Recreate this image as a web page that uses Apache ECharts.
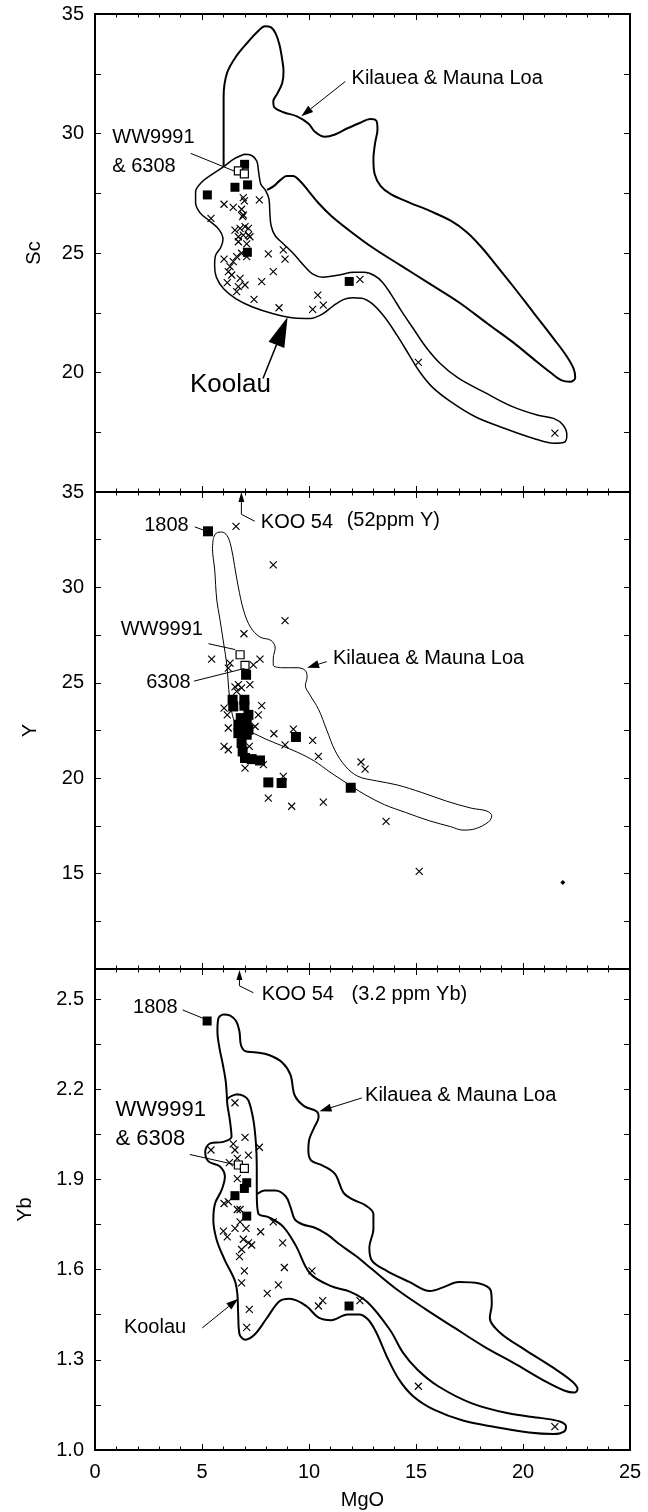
<!DOCTYPE html>
<html><head><meta charset="utf-8">
<script src="https://cdn.jsdelivr.net/npm/echarts@6/dist/echarts.min.js"></script>
<style>html,body{margin:0;padding:0;background:#fff}#c{width:648px;height:1512px}</style>
</head><body><div id="c"></div>
<script>
// ---------------- DATA ----------------
const mgoRange = [0, 25];
const scRange = [15, 35];
const yRange = [10, 35];
const ybRange = [1.0, 2.6];

// Sc panel
const scKilaueaOutline = [[6.01,28.64],[6.01,30.03],[6.01,31.56],[6.17,32.53],[6.59,33.22],[7.17,33.85],[7.65,34.31],[7.94,34.49],[8.23,34.44],[8.44,34.19],[8.62,33.71],[8.75,33.08],[8.81,32.60],[8.75,32.11],[8.52,31.67],[8.33,31.35],[8.37,31.11],[8.81,30.89],[9.44,30.72],[9.97,30.42],[10.29,30.06],[10.74,29.86],[11.22,29.96],[11.80,30.22],[12.37,30.44],[12.86,30.61],[13.15,30.53],[13.20,30.17],[13.09,29.61],[13.01,28.92],[13.07,28.29],[13.34,27.81],[13.82,27.46],[14.69,27.11],[15.65,26.76],[16.62,26.35],[17.39,25.86],[18.06,25.24],[18.64,24.61],[19.51,23.64],[20.47,22.53],[21.43,21.42],[22.01,20.72],[22.36,20.17],[22.44,19.78],[22.21,19.61],[21.78,19.68],[21.24,20.03],[20.47,20.58],[19.51,21.28],[18.35,22.04],[17.00,22.94],[15.65,23.71],[14.30,24.47],[12.95,25.24],[11.80,26.00],[11.03,26.56],[10.45,27.08],[9.97,27.60],[9.58,28.01],[9.25,28.22],[8.96,28.22],[8.67,28.06],[8.37,27.81],[8.04,27.64]];
const scKoolauOutline = [[6.98,29.13],[7.32,29.08],[7.56,28.85],[7.65,28.36],[7.75,27.88],[7.98,27.60],[8.13,27.25],[8.17,26.69],[8.23,26.14],[8.42,25.72],[8.81,25.38],[9.29,24.96],[9.77,24.47],[10.16,24.13],[10.64,23.99],[11.41,24.08],[12.09,24.19],[12.57,24.19],[13.05,24.06],[13.43,23.78],[13.82,23.29],[14.30,22.60],[14.88,21.83],[15.46,21.07],[16.13,20.38],[17.00,19.75],[18.16,19.19],[19.51,18.57],[20.66,18.22],[21.43,18.08],[21.86,17.81],[22.05,17.39],[21.92,17.08],[21.43,17.04],[20.47,17.25],[19.12,17.67],[17.77,18.15],[16.62,18.78],[15.75,19.40],[15.17,20.03],[14.69,20.72],[14.11,21.56],[13.53,22.32],[12.95,22.88],[12.47,23.11],[12.03,23.13],[11.60,23.05],[11.12,22.78],[10.64,22.45],[10.06,22.26],[9.29,22.28],[8.33,22.46],[7.36,22.74],[6.59,23.08],[6.01,23.50],[5.67,23.99],[5.59,24.47],[5.63,24.89],[5.88,25.24],[5.98,25.58],[5.78,26.00],[5.34,26.35],[4.90,26.69],[4.70,27.11],[4.70,27.56],[4.99,27.97],[5.47,28.29],[6.01,28.61],[6.50,28.94],[6.98,29.13]];
const scCross = [[6.03,27.04],[6.46,26.91],[6.93,27.32],[6.98,27.18],[7.68,27.22],[6.85,26.83],[6.93,26.59],[6.90,26.52],[5.42,26.45],[6.54,25.96],[6.78,26.03],[7.01,26.10],[7.17,26.03],[6.70,25.68],[6.93,25.75],[7.17,25.75],[7.24,25.68],[6.70,25.47],[7.09,25.38],[6.85,24.99],[6.62,24.85],[6.03,24.74],[6.46,24.64],[6.31,24.43],[6.23,24.22],[6.39,24.08],[6.18,23.76],[6.78,23.94],[7.01,23.66],[6.70,23.59],[6.62,23.38],[7.79,23.80],[8.33,24.22],[8.10,24.96],[8.80,25.13],[8.88,24.74],[7.43,23.06],[8.60,22.71],[10.41,23.24],[10.17,22.64],[10.67,22.82],[12.38,23.90],[7.09,24.85],[15.11,20.42],[21.49,17.46]];
const scFilled = [[6.99,28.71],[6.54,27.75],[7.13,27.85],[5.25,27.43],[7.12,25.03],[11.88,23.81]];
const scOpen = [[6.70,28.44],[6.98,28.31]];
const scNotes = [
  {text:'Kilauea & Mauna Loa', at:[11.99,32.29], align:'left'},
  {text:'WW9991', at:[0.81,29.82], align:'left'},
  {text:'& 6308', at:[0.81,28.64], align:'left'},
  {text:'Koolau', at:[6.33,19.47], align:'center', size:26},
  {from:[11.70,32.18], to:[9.64,30.72], head:'small'},
  {from:[7.85,19.75], to:[9.00,22.32], head:'fat'},
  {from:[4.47,29.17], to:[6.50,28.43]}
];

// Y panel
const yKilaueaOutline = [[5.53,32.58],[5.67,32.85],[5.92,32.90],[6.17,32.72],[6.36,32.13],[6.52,31.14],[6.69,30.06],[6.94,28.81],[7.27,27.91],[7.71,27.40],[8.23,27.22],[8.42,26.83],[8.33,26.29],[8.33,25.93],[8.71,25.79],[9.48,25.79],[9.83,25.64],[9.91,25.30],[9.83,24.85],[10.02,24.41],[10.45,23.60],[10.83,22.52],[11.22,21.44],[11.70,20.63],[12.28,20.10],[13.15,19.86],[14.11,19.65],[15.27,19.25],[16.42,18.80],[17.58,18.43],[18.31,18.28],[18.54,18.03],[18.39,17.71],[17.77,17.35],[17.19,17.28],[16.62,17.46],[15.65,17.76],[14.50,18.21],[13.53,18.61],[12.66,19.11],[12.09,19.50],[11.60,19.86],[11.03,20.28],[10.25,20.90],[9.48,21.35],[8.71,21.71],[7.94,22.07],[7.36,22.38],[6.98,22.52],[6.59,22.84],[6.40,23.42],[6.25,24.64],[6.17,25.86],[6.01,27.08],[5.82,28.45],[5.69,29.34],[5.59,30.96],[5.49,32.04],[5.53,32.58]];
const yCross = [[6.59,33.20],[8.33,31.18],[8.88,28.26],[6.96,27.57],[5.45,26.24],[7.71,26.24],[6.23,25.77],[6.31,26.03],[7.40,25.94],[7.24,24.90],[6.54,24.79],[6.70,24.90],[6.85,24.73],[6.62,24.55],[7.79,23.80],[7.63,23.32],[6.03,23.67],[6.18,23.32],[6.23,22.63],[7.48,22.71],[8.36,22.33],[9.27,22.57],[8.88,21.75],[10.17,21.98],[10.44,21.14],[6.03,21.67],[6.23,21.49],[7.21,21.67],[7.01,20.53],[7.87,20.71],[8.80,20.10],[8.10,18.96],[9.19,18.53],[10.67,18.75],[12.43,20.85],[12.62,20.48],[13.60,17.74],[15.15,15.12]];
const yDot = [[21.86,14.53]];
const yFilled = [[5.28,32.94],[7.06,25.42],[6.43,24.11],[6.46,23.76],[6.98,24.11],[6.98,23.80],[6.81,23.15],[7.17,23.32],[7.09,22.89],[6.70,22.80],[7.01,22.71],[7.17,22.54],[6.70,22.36],[6.93,22.36],[7.09,22.28],[6.85,21.84],[6.90,21.40],[7.01,21.06],[7.32,21.00],[7.71,20.93],[8.10,19.78],[8.72,19.75],[9.39,22.16],[11.95,19.50]];
const yOpen = [[6.78,26.47],[7.01,25.91]];
const yNotes = [
  {text:'1808', at:[4.38,33.26], align:'right'},
  {text:'KOO 54', at:[7.75,33.38], align:'left'},
  {text:'(52ppm Y)', at:[11.76,33.51], align:'left'},
  {text:'WW9991', at:[1.20,27.82], align:'left'},
  {text:'6308', at:[4.47,25.03], align:'right'},
  {text:'Kilauea & Mauna Loa', at:[11.12,26.29], align:'left'},
  {from:[6.84,33.83], to:[6.84,35.0], head:'tiny'},
  {from:[6.84,33.83], to:[7.46,33.47]},
  {from:[10.83,26.11], to:[9.91,25.79], head:'small'},
  {from:[4.66,33.17], to:[5.11,32.99]},
  {from:[5.30,27.05], to:[6.55,26.74]},
  {from:[4.63,25.09], to:[6.98,25.75]}
];

// Yb panel
const ybKilaueaOutline = [[6.17,2.163],[6.11,2.225],[5.98,2.280],[5.82,2.336],[5.72,2.392],[5.76,2.434],[6.01,2.449],[6.32,2.445],[6.59,2.427],[6.75,2.392],[6.82,2.347],[7.02,2.327],[7.46,2.323],[8.13,2.314],[8.75,2.289],[9.14,2.247],[9.33,2.180],[9.77,2.144],[10.35,2.127],[10.45,2.108],[10.25,2.074],[10.02,2.035],[9.97,1.996],[10.10,1.963],[10.64,1.946],[11.22,1.918],[11.60,1.857],[11.99,1.835],[12.66,1.813],[13.01,1.785],[13.01,1.735],[12.82,1.674],[12.95,1.629],[13.63,1.596],[14.69,1.559],[15.65,1.529],[16.23,1.540],[17.00,1.559],[17.96,1.554],[18.50,1.529],[18.54,1.484],[18.45,1.440],[18.93,1.390],[20.08,1.334],[21.43,1.273],[22.30,1.228],[22.55,1.203],[22.40,1.191],[21.92,1.198],[21.05,1.228],[19.70,1.284],[18.16,1.345],[16.81,1.406],[15.46,1.468],[14.11,1.534],[12.95,1.601],[12.18,1.646],[11.41,1.685],[10.83,1.718],[10.25,1.740],[9.68,1.751],[9.33,1.768],[9.14,1.807],[8.91,1.844],[8.42,1.863],[7.94,1.863],[7.59,1.852]];
const ybKoolauOutline = [[6.59,2.183],[6.94,2.178],[7.17,2.163],[7.40,2.098],[7.52,2.020],[7.56,1.943],[7.56,1.854],[7.63,1.787],[8.13,1.774],[8.79,1.743],[9.39,1.679],[10.04,1.588],[11.03,1.545],[11.91,1.527],[12.76,1.490],[13.78,1.400],[14.40,1.323],[15.07,1.267],[16.04,1.212],[17.58,1.156],[19.31,1.122],[20.86,1.106],[21.72,1.095],[22.01,1.078],[21.92,1.061],[21.43,1.053],[20.28,1.058],[18.74,1.076],[17.19,1.098],[15.84,1.134],[14.88,1.178],[14.21,1.234],[13.63,1.312],[13.15,1.390],[12.76,1.434],[12.34,1.451],[11.80,1.451],[11.03,1.432],[10.45,1.440],[9.87,1.479],[9.10,1.503],[8.62,1.495],[8.04,1.440],[7.46,1.384],[7.02,1.367],[6.75,1.386],[6.69,1.453],[6.65,1.520],[6.53,1.564],[6.07,1.631],[5.69,1.698],[5.53,1.765],[5.61,1.820],[5.92,1.865],[6.07,1.909],[5.84,1.943],[5.30,1.960],[5.15,1.992],[5.38,2.020],[5.99,2.025],[6.38,2.042],[6.30,2.098],[6.17,2.163],[6.59,2.183]];
const ybCross = [[6.54,2.155],[5.42,1.998],[6.46,2.018],[6.54,1.998],[7.01,2.040],[7.68,2.007],[7.17,1.981],[6.28,1.956],[6.65,1.970],[6.65,1.903],[6.03,1.820],[6.23,1.826],[6.65,1.800],[6.78,1.800],[6.78,1.759],[6.54,1.737],[6.00,1.728],[6.18,1.709],[7.06,1.737],[7.74,1.726],[8.33,1.759],[8.77,1.689],[6.93,1.701],[7.17,1.689],[7.32,1.682],[6.85,1.667],[6.75,1.643],[6.98,1.596],[8.85,1.607],[10.14,1.596],[6.85,1.556],[8.57,1.549],[8.05,1.521],[10.44,1.479],[10.64,1.497],[12.38,1.497],[7.21,1.468],[7.09,1.408],[15.11,1.212],[21.49,1.078]];
const ybFilled = [[5.24,2.427],[7.09,1.889],[6.98,1.870],[6.54,1.846],[7.09,1.778],[11.87,1.479]];
const ybOpen = [[6.70,1.948],[6.98,1.937]];
const ybNotes = [
  {text:'KOO 54', at:[7.79,2.515], align:'left'},
  {text:'(3.2 ppm Yb)', at:[11.99,2.515], align:'left'},
  {text:'1808', at:[3.86,2.472], align:'right'},
  {text:'WW9991', at:[0.96,2.130], align:'left', size:22},
  {text:'& 6308', at:[0.96,2.035], align:'left', size:22},
  {text:'Kilauea & Mauna Loa', at:[12.62,2.178], align:'left'},
  {text:'Koolau', at:[1.35,1.406], align:'left'},
  {from:[6.75,2.544], to:[6.75,2.597], head:'tiny'},
  {from:[6.75,2.544], to:[7.40,2.521]},
  {from:[12.47,2.171], to:[10.49,2.127], head:'small'},
  {from:[5.01,1.406], to:[6.69,1.503], head:'small'},
  {from:[4.09,2.464], to:[5.05,2.436]},
  {from:[4.43,1.983], to:[6.50,1.950]}
];

// ---------------- CHART ----------------
const FONT = '"Liberation Sans", Arial, Helvetica, sans-serif';
const HEADS = {small:[12,8], fat:[30,17], tiny:[10,6]};
const chart = echarts.init(document.getElementById('c'), null, {renderer:'canvas'});

const grids = [
  {left:95, right:18, top:14, height:478},
  {left:95, right:18, top:492, height:477},
  {left:95, right:18, top:969, height:481}
];
const lineStyle = {color:'#000', width:2};
const tickStyle = {color:'#000', width:1};
function xAxes(gi, showLabels) {
  const base = {gridIndex:gi, type:'value', min:mgoRange[0], max:mgoRange[1], interval:5,
    axisLine:{show:true, onZero:false, lineStyle},
    axisTick:{show:true, inside:true, length:6, lineStyle:tickStyle},
    minorTick:{show:true, splitNumber:5, length:3.5, lineStyle:tickStyle},
    splitLine:{show:false}, minorSplitLine:{show:false}};
  return [
    Object.assign({}, base, {position:'bottom',
      axisLabel:{show:showLabels, color:'#000', fontSize:20, fontFamily:FONT, margin:12},
      name: showLabels ? 'MgO' : '', nameLocation:'middle', nameGap:40,
      nameTextStyle:{color:'#000', fontSize:20, fontFamily:FONT}}),
    Object.assign({}, base, {position:'top', axisLabel:{show:false}})
  ];
}
function yAxes(gi, range, interval, fmt, name, gap) {
  const base = {gridIndex:gi, type:'value', min:range[0], max:range[1], interval,
    axisLine:{show:true, onZero:false, lineStyle},
    axisTick:{show:true, inside:true, length:6, lineStyle:tickStyle},
    splitLine:{show:false}};
  return [
    Object.assign({}, base, {position:'left',
      axisLabel:{formatter:fmt, color:'#000', fontSize:20, fontFamily:FONT, margin:11},
      name, nameLocation:'middle', nameGap:gap,
      nameTextStyle:{color:'#000', fontSize:20, fontFamily:FONT}}),
    Object.assign({}, base, {position:'right', axisLabel:{show:false}})
  ];
}
const fmtSc = v => (Math.abs(v % 5) < 1e-9 && v > scRange[0]) ? String(v) : '';
const fmtY = v => (Math.abs(v % 5) < 1e-9 && v > yRange[0]) ? String(v) : '';
const fmtYb = v => { const k = (v - 1) / 0.3; return (Math.abs(k - Math.round(k)) < 1e-6 && v < 2.55) ? v.toFixed(1) : ''; };

function outline(gi, data, w) {
  return {type:'line', xAxisIndex:2*gi, yAxisIndex:2*gi, data, smooth:0.35, symbol:'none', showSymbol:false,
    lineStyle:{color:'#000', width:w, opacity:1}, silent:true, z:2, clip:false};
}
const CROSS = 'path://M0,0L10,10M10,0L0,10';
function crosses(gi, data, size) {
  return {type:'scatter', xAxisIndex:2*gi, yAxisIndex:2*gi, data, symbol:CROSS, symbolSize:size,
    itemStyle:{color:'rgba(0,0,0,0)', borderColor:'#000', borderWidth:1.15, opacity:1}, silent:true, z:3};
}
function squares(gi, data, size, open) {
  return {type:'scatter', xAxisIndex:2*gi, yAxisIndex:2*gi, data, symbol:'rect', symbolSize:size,
    itemStyle: open ? {color:'#fff', borderColor:'#000', borderWidth:1.2, opacity:1} : {color:'#000', opacity:1},
    silent:true, z: open ? 5 : 4};
}
function notes(gi, items) {
  return {type:'custom', xAxisIndex:2*gi, yAxisIndex:2*gi, data: items.map((_, i) => [i, i]), silent:true, z:10, clip:false,
    renderItem: (params, api) => {
      const it = items[params.dataIndex];
      if (it.text) {
        const p = api.coord(it.at);
        return {type:'text', x:p[0], y:p[1], style:{text:it.text, font:(it.size || 20) + 'px ' + FONT, fill:'#000',
          align:it.align || 'left', verticalAlign:'middle'}};
      }
      const a = api.coord(it.from), b = api.coord(it.to);
      if (!it.head) {
        return {type:'line', shape:{x1:a[0], y1:a[1], x2:b[0], y2:b[1]}, style:{stroke:'#000', lineWidth:1}};
      }
      const [L, W] = HEADS[it.head];
      const dx = b[0] - a[0], dy = b[1] - a[1], len = Math.hypot(dx, dy);
      const ux = dx / len, uy = dy / len;
      const bx = b[0] - ux * L, by = b[1] - uy * L;
      const px = -uy * W / 2, py = ux * W / 2;
      return {type:'group', children:[
        {type:'line', shape:{x1:a[0], y1:a[1], x2:bx, y2:by}, style:{stroke:'#000', lineWidth: it.head === 'fat' ? 1.5 : 1}},
        {type:'polygon', shape:{points:[[b[0], b[1]], [bx + px, by + py], [bx - px, by - py]]}, style:{fill:'#000'}}
      ]};
    }};
}

const option = {
  animation:false,
  backgroundColor:'#fff',
  grid: grids,
  xAxis: [].concat(xAxes(0, false), xAxes(1, false), xAxes(2, true)),
  yAxis: [].concat(yAxes(0, scRange, 2.5, fmtSc, 'Sc', 51), yAxes(1, yRange, 2.5, fmtY, 'Y', 55), yAxes(2, ybRange, 0.15, fmtYb, 'Yb', 60)),
  series: [
    outline(0, scKilaueaOutline, 2), outline(0, scKoolauOutline, 1.5),
    crosses(0, scCross, 7), squares(0, scFilled, 9, false), squares(0, scOpen, 8, true), notes(0, scNotes),
    outline(1, yKilaueaOutline, 1),
    crosses(1, yCross, 7), squares(1, yFilled, 10, false), squares(1, yOpen, 8, true),
    {type:'scatter', xAxisIndex:2, yAxisIndex:2, data:yDot, symbol:'diamond', symbolSize:5, itemStyle:{color:'#000', opacity:1}, silent:true},
    notes(1, yNotes),
    outline(2, ybKilaueaOutline, 2), outline(2, ybKoolauOutline, 2),
    crosses(2, ybCross, 7), squares(2, ybFilled, 9, false), squares(2, ybOpen, 8, true), notes(2, ybNotes)
  ]
};
chart.setOption(option);
</script></body></html>
